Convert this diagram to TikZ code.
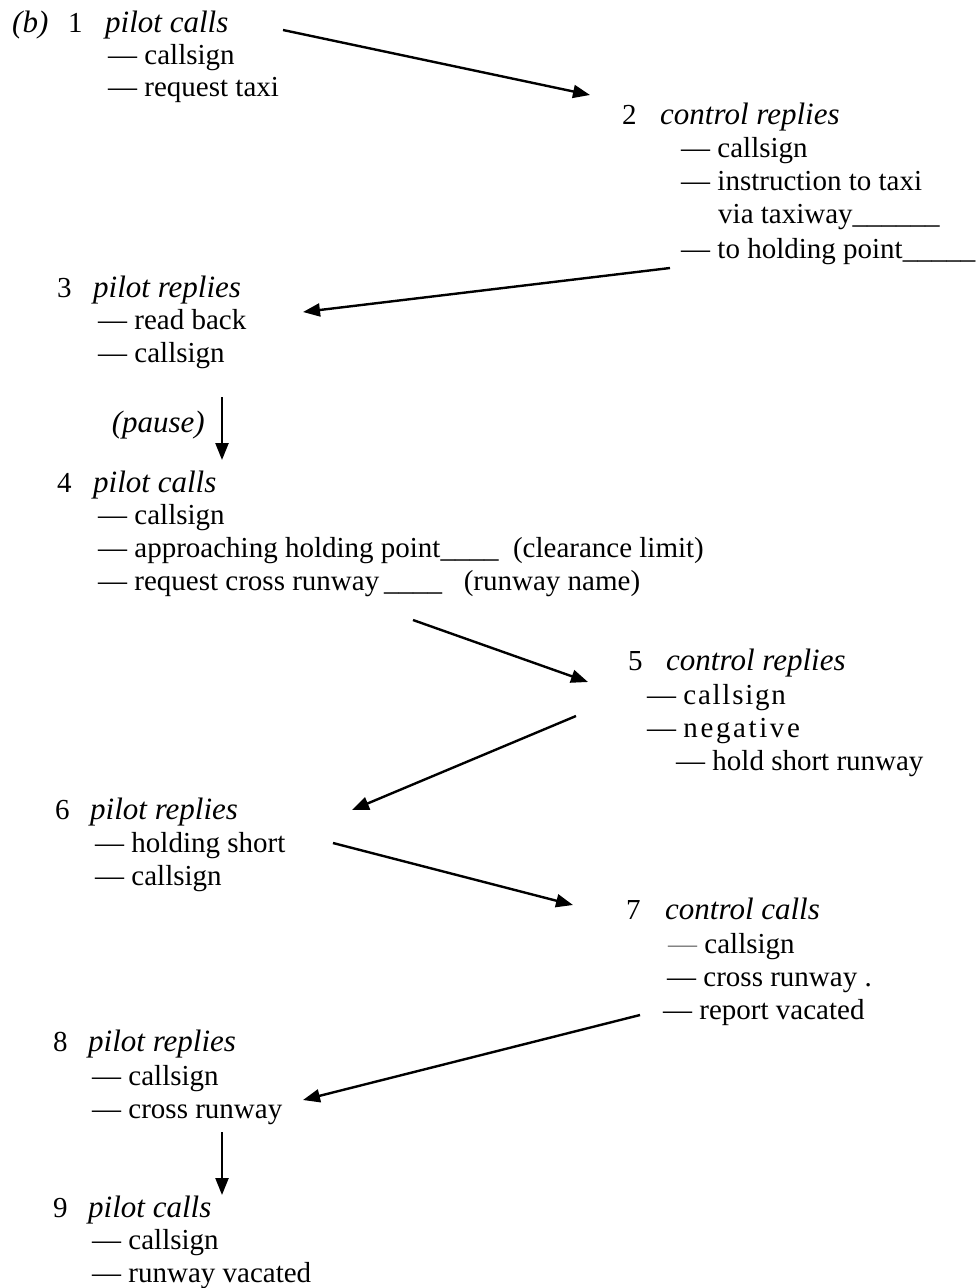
\documentclass[tikz,border=0pt]{standalone}
\usepackage{fontspec}
\setmainfont{Liberation Serif}
\usetikzlibrary{arrows.meta}
\begin{document}
\begin{tikzpicture}[x=1pt,y=-1pt,
    line/.style={anchor=base west,inner sep=0pt,font=\fontsize{29}{33}\selectfont},
    head/.style={line,font=\fontsize{31}{33}\selectfont\itshape},
    arr/.style={line width=2.4pt,-{Triangle[length=17pt,width=13pt]}}]
\useasboundingbox (0,0) rectangle (978,1288);

    \node[head] (b) at (12,32) {(b)};
    \node[line] (n1) at (68,32) {1};
    \node[head] (t1) at (105,32) {pilot calls};
    \node[line] (n1a) at (108,64) {--- callsign};
    \node[line] (n1b) at (108,96) {--- request taxi};

    \node[line] (n2) at (622,124) {2};
    \node[head] (t2) at (660,124) {control replies};
    \node[line] (n2a) at (681,157) {--- callsign};
    \node[line] (n2b) at (681,190) {--- instruction to taxi};
    \node[line] (n2c) at (718,223) {via taxiway\_\_\_\_\_\_};
    \node[line] (n2d) at (681,258) {--- to holding point\_\_\_\_\_};

    \node[line] (n3) at (57,297) {3};
    \node[head] (t3) at (93,297) {pilot replies};
    \node[line] (n3a) at (98,329) {--- read back};
    \node[line] (n3b) at (98,362) {--- callsign};
    \node[head,anchor=base east] (pause) at (205,432) {(pause)};

    \node[line] (n4) at (57,492) {4};
    \node[head] (t4) at (93,492) {pilot calls};
    \node[line] (n4a) at (98,524) {--- callsign};
    \node[line] (n4b) at (98,557) {--- approaching holding point\_\_\_\_\ \ (clearance limit)};
    \node[line] (n4c) at (98,590) {--- request cross runway\,\_\_\_\_\ \ \ (runway name)};

    \node[line] (n5) at (628,670) {5};
    \node[head] (t5) at (666,670) {control replies};
    \node[line] (n5a) at (647,704) {--- {\addfontfeature{LetterSpace=6}callsign}};
    \node[line] (n5b) at (647,737) {--- {\addfontfeature{LetterSpace=9}negative}};
    \node[line] (n5c) at (676,770) {--- hold short runway};

    \node[line] (n6) at (55,819) {6};
    \node[head] (t6) at (90,819) {pilot replies};
    \node[line] (n6a) at (95,852) {--- holding short};
    \node[line] (n6b) at (95,885) {--- callsign};

    \node[line] (n7) at (626,919) {7};
    \node[head] (t7) at (665,919) {control calls};
    \node[line] (n7a) at (668,953) {{\color{gray}---} callsign};
    \node[line] (n7b) at (667,986) {--- cross runway .};
    \node[line] (n7c) at (663,1019) {--- report vacated};

    \node[line] (n8) at (53,1051) {8};
    \node[head] (t8) at (88,1051) {pilot replies};
    \node[line] (n8a) at (92,1085) {--- callsign};
    \node[line] (n8b) at (92,1118) {--- cross runway};

    \node[line] (n9) at (53,1217) {9};
    \node[head] (t9) at (88,1217) {pilot calls};
    \node[line] (n9a) at (92,1249) {--- callsign};
    \node[line] (n9b) at (92,1282) {--- runway vacated};

    \coordinate (a1) at (283,30);   \coordinate (b1) at (590,95);
    \coordinate (a2) at (670,268);  \coordinate (b2) at (303,312);
    \coordinate (a3) at (222,397);  \coordinate (b3) at (222,460);
    \coordinate (a4) at (413,620);  \coordinate (b4) at (588,682);
    \coordinate (a5) at (576,716);  \coordinate (b5) at (352,810);
    \coordinate (a6) at (333,843);  \coordinate (b6) at (573,905);
    \coordinate (a7) at (640,1015); \coordinate (b7) at (303,1100);
    \coordinate (a8) at (222,1132); \coordinate (b8) at (222,1195);

\draw[arr] (a1) -- (b1);
\draw[arr] (a2) -- (b2);
\draw[arr] (a3) -- (b3);
\draw[arr] (a4) -- (b4);
\draw[arr] (a5) -- (b5);
\draw[arr] (a6) -- (b6);
\draw[arr] (a7) -- (b7);
\draw[arr] (a8) -- (b8);
\end{tikzpicture}
\end{document}
